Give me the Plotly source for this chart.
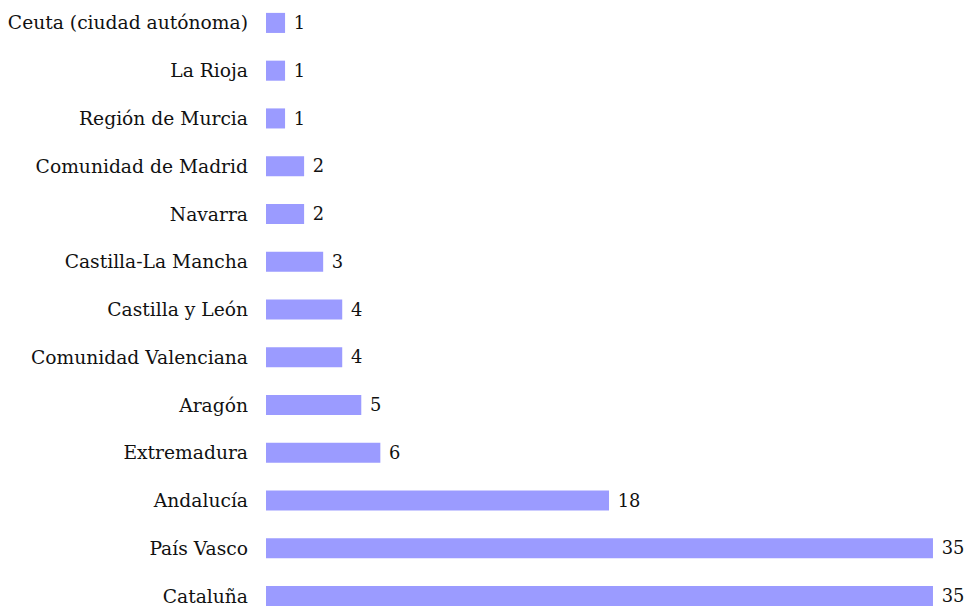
import plotly.graph_objects as go

regions = ["Cataluña", "País Vasco", "Andalucía", "Extremadura", "Aragón",
           "Comunidad Valenciana", "Castilla y León", "Castilla-La Mancha",
           "Navarra", "Comunidad de Madrid", "Región de Murcia", "La Rioja",
           "Ceuta (ciudad autónoma)"]
counts = [35, 35, 18, 6, 5, 4, 4, 3, 2, 2, 1, 1, 1]

FONT = "DejaVu Serif"
SIZE = 18.7

fig = go.Figure(go.Bar(
    x=counts, y=regions, orientation="h",
    marker=dict(color="#9b9bff", line=dict(width=0)),
    text=[" " + str(c) for c in counts], textposition="outside",
    textfont=dict(family=FONT, size=SIZE, color="#111"),
    cliponaxis=False, hoverinfo="skip",
))

fig.update_layout(
    width=965, height=606,
    margin=dict(l=266, r=0, t=0, b=0),
    paper_bgcolor="white", plot_bgcolor="white",
    bargap=0.58, showlegend=False,
    font=dict(family=FONT, size=SIZE, color="#111"),
    xaxis=dict(range=[0, 36.68], visible=False, showgrid=False, zeroline=False),
    yaxis=dict(range=[-0.209, 12.48], showgrid=False, zeroline=False, showline=False,
               ticks="", ticklabelstandoff=17, automargin=False,
               tickfont=dict(family=FONT, size=SIZE, color="#111")),
    uniformtext=dict(mode=False),
)

fig.write_html(
    "out.html",
    config={"displayModeBar": False},
    post_script="document.body.style.margin='0';document.body.style.overflow='hidden';",
)
